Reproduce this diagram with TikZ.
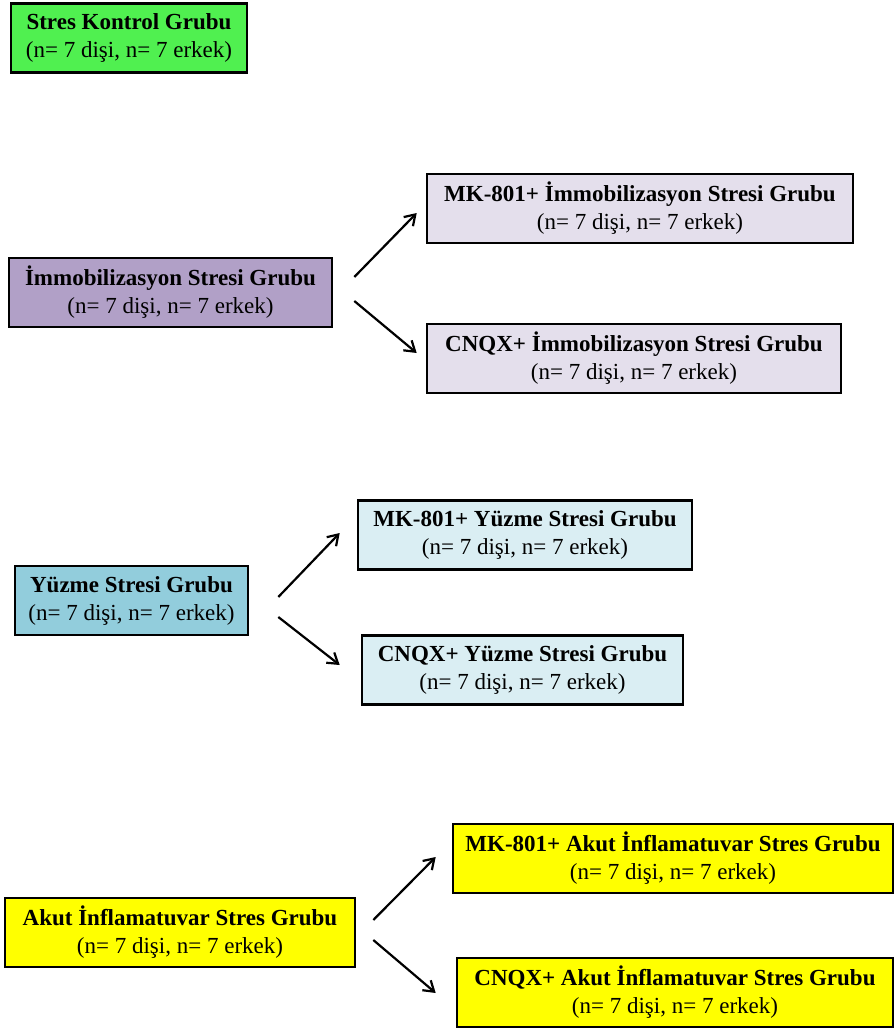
\documentclass[tikz,border=0pt]{standalone}
\usepackage{fontspec}
\setmainfont{Liberation Serif}
\usetikzlibrary{calc}
\usetikzlibrary{arrows.meta}
\definecolor{kontrolgreen}{RGB}{80,240,80}
\definecolor{immodark}{RGB}{177,160,199}
\definecolor{immolight}{RGB}{228,223,236}
\definecolor{yuzmedark}{RGB}{146,205,220}
\definecolor{yuzmelight}{RGB}{218,238,243}
\definecolor{akutyellow}{RGB}{255,255,0}

\begin{document}
\begin{tikzpicture}
		[x=1pt, y=-1pt,
			group/.style={draw=black, line width=2.6pt, inner sep=0pt, align=center,
				minimum height=69pt, font=\fontsize{23}{28}\selectfont},
			arrow/.style={-{Straight Barb[length=10pt, width=13pt]}, line width=2.2pt, black}]
		\useasboundingbox (0,0) rectangle (896,1028);
		% control group
		\node[group, fill=kontrolgreen, minimum width=236pt] (kontrol) at (129,38)
			{\textbf{Stres Kontrol Grubu}\\(n= 7 dişi, n= 7 erkek)};
		% immobilization stress groups
		\node[group, fill=immodark, minimum width=323pt] (immo) at (170.5,292.5)
			{\textbf{İmmobilizasyon Stresi Grubu}\\(n= 7 dişi, n= 7 erkek)};
		\node[group, fill=immolight, minimum width=426pt] (immoMK) at (640,208.5)
			{\textbf{MK-801+ İmmobilizasyon Stresi Grubu}\\(n= 7 dişi, n= 7 erkek)};
		\node[group, fill=immolight, minimum width=414pt] (immoCN) at (634,358.5)
			{\textbf{CNQX+ İmmobilizasyon Stresi Grubu}\\(n= 7 dişi, n= 7 erkek)};
		% swimming stress groups
		\node[group, fill=yuzmedark, minimum width=233pt] (yuzme) at (131.5,600.5)
			{\textbf{Yüzme Stresi Grubu}\\(n= 7 dişi, n= 7 erkek)};
		\node[group, fill=yuzmelight, minimum width=334pt] (yuzmeMK) at (525,535)
			{\textbf{MK-801+ Yüzme Stresi Grubu}\\(n= 7 dişi, n= 7 erkek)};
		\node[group, fill=yuzmelight, minimum width=321pt] (yuzmeCN) at (522.5,670)
			{\textbf{CNQX+ Yüzme Stresi Grubu}\\(n= 7 dişi, n= 7 erkek)};
		% acute inflammatory stress groups
		\node[group, fill=akutyellow, minimum width=350pt] (akut) at (180,932.5)
			{\textbf{Akut İnflamatuvar Stres Grubu}\\(n= 7 dişi, n= 7 erkek)};
		\node[group, fill=akutyellow, minimum width=440pt] (akutMK) at (673,858.5)
			{\textbf{MK-801+ Akut İnflamatuvar Stres Grubu}\\(n= 7 dişi, n= 7 erkek)};
		\node[group, fill=akutyellow, minimum width=436pt] (akutCN) at (675,992.5)
			{\textbf{CNQX+ Akut İnflamatuvar Stres Grubu}\\(n= 7 dişi, n= 7 erkek)};
		% arrow end points
		\coordinate (immoUp) at ($(immo.east)+(21,-15.5)$);
		\coordinate (immoDown) at ($(immo.east)+(21,8.5)$);
		\coordinate (yuzmeUp) at ($(yuzme.east)+(29,-3.5)$);
		\coordinate (yuzmeDown) at ($(yuzme.east)+(29,16.5)$);
		\coordinate (akutUp) at ($(akut.east)+(17,-12.5)$);
		\coordinate (akutDown) at ($(akut.east)+(17,7.5)$);
		% draw the arrows
		\draw[arrow] (immoUp) to ($(immoMK.west)+(-9,4.5)$);
		\draw[arrow] (immoDown) to ($(immoCN.west)+(-9,-5.5)$);
		\draw[arrow] (yuzmeUp) to ($(yuzmeMK.west)+(-17,-2)$);
		\draw[arrow] (yuzmeDown) to ($(yuzmeCN.west)+(-21,-5)$);
		\draw[arrow] (akutUp) to ($(akutMK.west)+(-16,-1.5)$);
		\draw[arrow] (akutDown) to ($(akutCN.west)+(-20,0.5)$);
	\end{tikzpicture}
\end{document}
